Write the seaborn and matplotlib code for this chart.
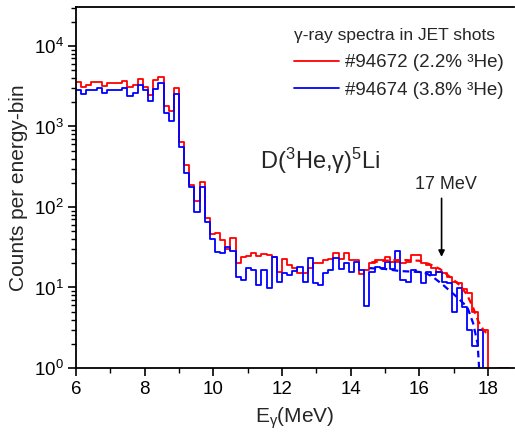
import numpy as np
import pandas as pd
import matplotlib
matplotlib.use("Agg")
import matplotlib.pyplot as plt
import seaborn as sns
from matplotlib.lines import Line2D
from matplotlib.ticker import MultipleLocator, LogLocator, NullFormatter

# ---------------- data ----------------
bin_start = 6.0      # MeV, left edge of first bin
bin_width = 0.15     # MeV

red_counts = [3600, 3070, 3280, 3600, 3600, 3190, 3440, 3500, 3440, 3670,
              3070, 3280, 3860, 3070, 2460, 3800, 4100, 1800, 1560, 2980,
              645, 333, 188, 118, 206, 73, 46, 47, 39, 30,
              41, 20, 24, 24.7, 27, 24.7, 25.8, 25, 24, 15.7,
              22.4, 19, 17.6, 15, 15, 17.3, 20, 20.3, 22, 22.4,
              26.6, 22.4, 27, 22, 22, 14.6, 16.5, 20, 22, 21.7,
              24.1, 20.5, 20.5, 20, 21, 25.3, 25.3, 20, 19, 17.6,
              15.7, 15, 13.6, 11.8, 11.3, 9.5, 8.6, 5.0, 3.0, 3.0,
              0, 0, 1, 1]

blue_counts = [2840, 2510, 2840, 2840, 2980, 2630, 2840, 2840, 2800, 2980,
               2410, 2630, 3280, 2840, 2090, 2900, 3440, 1490, 1180, 2540,
               561, 262, 176, 87.5, 177, 65, 39.7, 27.9, 26.6, 32,
               28.6, 13.6, 12.4, 17.3, 16.5, 10.7, 16.5, 9.8, 24, 11.8,
               15, 14.3, 16, 18.1, 11.8, 23, 11.5, 10.7, 15.3, 16.5,
               23, 16.8, 20, 15.7, 20.9, 16.5, 5.9, 15.7, 18.1, 17.3,
               20.9, 17, 28, 12.4, 11.8, 16.5, 15.7, 11.3, 15.7, 14.3,
               15.7, 11.8, 11.3, 5.0, 9.8, 5.8, 3.0, 1.9, 3.0, 0]

red_fit_E = [14.6, 15.0, 15.5, 16.0, 16.3, 16.6, 16.9, 17.2, 17.4, 17.57, 17.72, 17.86, 18.0]
red_fit_counts = [20.5, 21.5, 22, 21.5, 19.5, 17, 13.5, 10.5, 8, 5.6, 3.8, 3.0, 2.6]

blue_fit_E = [14.55, 15.0, 15.44, 16.0, 16.2, 16.4, 16.7, 17.1, 17.4, 17.57, 17.7, 17.75]
blue_fit_counts = [17.4, 17, 16, 15.6, 15, 13.5, 10.7, 7.6, 5.7, 3.6, 2.0, 0.9]

legend_title = "γ-ray spectra in JET shots"
legend_labels = ["#94672 (2.2% ³He)", "#94674 (3.8% ³He)"]
series_colors = ["#ff0000", "#0000ff"]

# ---------------- style ----------------
sns.set_style("ticks")
plt.rcParams["font.family"] = ["Liberation Sans", "DejaVu Sans"]
plt.rcParams["mathtext.fontset"] = "custom"
plt.rcParams["mathtext.rm"] = "Liberation Sans"
plt.rcParams["mathtext.it"] = "Liberation Sans"
plt.rcParams["mathtext.bf"] = "Liberation Sans:bold"
plt.rcParams["axes.edgecolor"] = "black"
plt.rcParams["xtick.color"] = "black"
plt.rcParams["ytick.color"] = "black"

W, H = 515, 443
fig = plt.figure(figsize=(W / 100, H / 100), dpi=100)
ax = fig.add_axes([76 / W, 1 - 368 / H, (514 - 76) / W, (368 - 7) / H])


def step_frame(counts):
    n = len(counts)
    edges = bin_start + bin_width * np.arange(n + 1)
    vals = list(counts) + [counts[-1]]
    return pd.DataFrame({"E": edges, "counts": vals})


for counts, col in zip([red_counts, blue_counts], series_colors):
    df = step_frame(counts)
    sns.lineplot(data=df, x="E", y="counts", drawstyle="steps-post", color=col,
                 lw=1.3, ax=ax, estimator=None, sort=False)

sns.lineplot(x=red_fit_E, y=red_fit_counts, color=series_colors[0], lw=1.6,
             linestyle=(0, (3, 2)), ax=ax, estimator=None, sort=False)
sns.lineplot(x=blue_fit_E, y=blue_fit_counts, color=series_colors[1], lw=1.6,
             linestyle=(0, (3, 2)), ax=ax, estimator=None, sort=False)

ax.set_yscale("log", nonpositive="clip")
ax.set_ylim(1, 30500)
ax.set_xlim(6, 18.76)

ax.xaxis.set_major_locator(MultipleLocator(2))
ax.xaxis.set_minor_locator(MultipleLocator(1))
ax.yaxis.set_major_locator(LogLocator(base=10, numticks=10))
ax.yaxis.set_minor_locator(LogLocator(base=10, subs=np.arange(2, 10), numticks=20))
ax.yaxis.set_minor_formatter(NullFormatter())

ax.tick_params(which="major", direction="out", length=6, width=1.2,
               labelsize=13.5, pad=3)
ax.tick_params(which="minor", direction="out", length=3.5, width=1.0)
for side in ["left", "bottom", "top"]:
    ax.spines[side].set_linewidth(1.3)
ax.spines["right"].set_visible(False)

ax.set_xlabel(r"E$_{\gamma}$(MeV)", fontsize=15, labelpad=6)
ax.set_ylabel("Counts per energy-bin", fontsize=15, labelpad=4)

ax.text(13.11, 373, r"D($^3$He,γ)$^5$Li", fontsize=17, ha="center", va="center")
ax.text(16.78, 188, "17 MeV", fontsize=13, ha="center", va="center")
ax.annotate("", xy=(16.65, 24), xytext=(16.65, 128),
            arrowprops=dict(arrowstyle="-|>", color="black", lw=1.2,
                            mutation_scale=9, shrinkA=0, shrinkB=0))

handles = [Line2D([], [], color=c, lw=1.3) for c in series_colors]
leg = ax.legend(handles, legend_labels, title=legend_title, frameon=False,
                fontsize=13.5, title_fontsize=12.5, handlelength=2.4,
                handletextpad=0.3, labelspacing=0.57, borderpad=0,
                loc="upper left", alignment="left",
                bbox_to_anchor=(285 / W, 1 - 19 / H),
                bbox_transform=fig.transFigure)

fig.savefig("out.png", dpi=100)
